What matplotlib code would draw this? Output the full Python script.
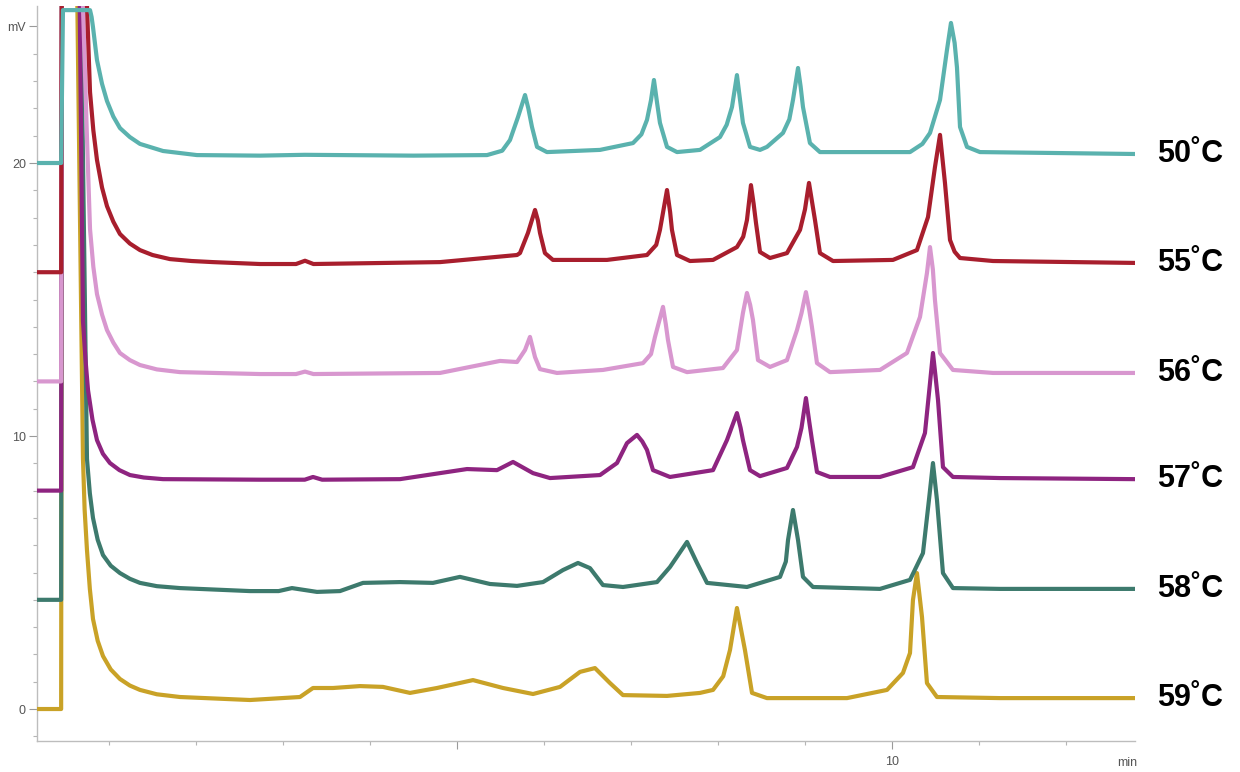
import matplotlib.pyplot as plt
from matplotlib.ticker import FixedLocator
import numpy as np

# Chromatogram traces: retention time (min) and signal (mV)
# each trace is offset by 4 mV from the one below
time_50 = [0.17, 0.45, 0.471, 0.782, 0.80, 0.816, 0.862, 0.92, 0.977, 1.05, 1.126, 1.24, 1.356, 1.621, 2.011,
           2.736, 3.25, 4.5,
           5.345, 5.52, 5.609, 5.701, 5.782, 5.82, 5.862, 5.92, 6.034,
           6.644, 7.023, 7.12, 7.184, 7.23, 7.264, 7.30, 7.333, 7.414, 7.529,
           7.793, 8.023, 8.10, 8.161, 8.218, 8.25, 8.287, 8.368, 8.483,
           8.563, 8.747, 8.82, 8.862, 8.92, 8.95, 8.977, 9.057, 9.172,
           10.207, 10.35, 10.437, 10.552, 10.632, 10.678, 10.72, 10.747, 10.782, 10.862, 11.011, 12.793]
mv_50 = [20.0, 20.0, 25.6, 25.6, 25.35, 24.98, 23.77, 22.9, 22.27, 21.7, 21.28, 20.95, 20.70, 20.44, 20.29,
         20.27, 20.30, 20.27,
         20.29, 20.45, 20.84, 21.68, 22.49, 22.0, 21.32, 20.59, 20.40,
         20.48, 20.73, 21.05, 21.58, 22.3, 23.04, 22.2, 21.47, 20.59, 20.40,
         20.48, 20.95, 21.4, 22.05, 23.22, 22.4, 21.47, 20.59, 20.48,
         20.59, 21.10, 21.6, 22.31, 23.48, 22.8, 22.05, 20.73, 20.40,
         20.40, 20.7, 21.10, 22.31, 24.14, 25.13, 24.4, 23.50, 21.32, 20.59, 20.40, 20.33]

time_55 = [0.17, 0.45, 0.46, 0.70, 0.782, 0.82, 0.862, 0.92, 0.977, 1.05, 1.126, 1.24, 1.356, 1.5, 1.701, 1.95,
           2.195, 2.736, 3.15, 3.253, 3.35,
           4.805, 5.69, 5.724, 5.816, 5.897, 5.93, 5.954, 6.011, 6.103,
           6.724, 7.184, 7.29, 7.333, 7.414, 7.45, 7.471, 7.529, 7.678,
           7.943, 8.218, 8.29, 8.333, 8.379, 8.41, 8.437, 8.483, 8.598,
           8.793, 8.943, 9.0, 9.046, 9.08, 9.115, 9.172, 9.322,
           10.011, 10.287, 10.414, 10.494, 10.552, 10.609, 10.667, 10.72, 10.782, 11.161, 12.793]
mv_55 = [16.0, 16.0, 30.0, 30.0, 22.60, 21.2, 20.11, 19.1, 18.42, 17.85, 17.40, 17.05, 16.81, 16.63, 16.48, 16.41,
         16.37, 16.30, 16.30, 16.42, 16.30,
         16.37, 16.63, 16.70, 17.44, 18.28, 17.9, 17.44, 16.70, 16.45,
         16.45, 16.63, 17.0, 17.55, 19.01, 18.2, 17.55, 16.63, 16.41,
         16.45, 16.92, 17.3, 17.91, 19.19, 18.5, 17.80, 16.74, 16.52,
         16.70, 17.55, 18.3, 19.27, 18.6, 17.91, 16.70, 16.41,
         16.45, 16.81, 18.02, 19.85, 21.03, 19.27, 17.18, 16.75, 16.52, 16.41, 16.34]

time_56 = [0.17, 0.45, 0.46, 0.66, 0.747, 0.782, 0.82, 0.862, 0.92, 0.977, 1.05, 1.126, 1.24, 1.356, 1.55,
           1.816, 2.736, 3.15, 3.253, 3.35,
           4.805, 5.494, 5.69, 5.782, 5.839, 5.897, 5.954, 6.149,
           6.678, 7.138, 7.23, 7.276, 7.368, 7.40, 7.425, 7.483, 7.644,
           8.057, 8.218, 8.287, 8.333, 8.37, 8.402, 8.46, 8.598,
           8.793, 8.908, 8.96, 9.011, 9.05, 9.08, 9.138, 9.287,
           9.862, 10.172, 10.322, 10.402, 10.437, 10.47, 10.494, 10.552, 10.701, 11.161, 12.793]
mv_56 = [12.0, 12.0, 30.0, 30.0, 20.92, 17.58, 16.2, 15.20, 14.45, 13.88, 13.42, 13.04, 12.78, 12.60, 12.44,
         12.34, 12.27, 12.27, 12.36, 12.27,
         12.31, 12.75, 12.71, 13.15, 13.63, 12.89, 12.45, 12.31,
         12.42, 12.67, 13.0, 13.63, 14.73, 14.1, 13.52, 12.53, 12.34,
         12.49, 13.15, 14.51, 15.24, 14.8, 14.25, 12.78, 12.53,
         12.78, 13.88, 14.5, 15.27, 14.6, 13.99, 12.67, 12.34,
         12.42, 13.04, 14.36, 15.97, 16.92, 16.1, 14.98, 13.04, 12.42, 12.31, 12.31]

time_57 = [0.17, 0.45, 0.46, 0.65, 0.701, 0.73, 0.759, 0.81, 0.862, 0.93, 1.011, 1.12, 1.241, 1.4, 1.621,
           2.736, 3.25, 3.345, 3.45,
           4.345, 5.115, 5.46, 5.644, 5.874, 6.069,
           6.644, 6.839, 6.954, 7.069, 7.13, 7.184, 7.253, 7.448,
           7.943, 8.103, 8.218, 8.26, 8.287, 8.368, 8.483,
           8.793, 8.908, 8.96, 9.011, 9.05, 9.08, 9.138, 9.287,
           9.862, 10.241, 10.379, 10.437, 10.471, 10.50, 10.529, 10.586, 10.701, 11.241, 12.793]
mv_57 = [8.0, 8.0, 30.0, 30.0, 14.21, 12.8, 11.68, 10.6, 9.85, 9.35, 9.01, 8.75, 8.57, 8.48, 8.42,
         8.40, 8.40, 8.50, 8.40,
         8.42, 8.79, 8.75, 9.05, 8.64, 8.46,
         8.57, 9.01, 9.74, 10.04, 9.8, 9.49, 8.75, 8.50,
         8.75, 9.85, 10.84, 10.3, 9.85, 8.75, 8.53,
         8.83, 9.60, 10.3, 11.39, 10.5, 9.85, 8.68, 8.50,
         8.50, 8.86, 10.11, 11.94, 13.04, 12.2, 11.32, 8.86, 8.50, 8.46, 8.42]

time_58 = [0.17, 0.45, 0.46, 0.66, 0.747, 0.78, 0.816, 0.87, 0.931, 1.02, 1.126, 1.24, 1.356, 1.55, 1.816,
           2.621, 2.95, 3.103, 3.391,
           3.655, 3.92, 4.345, 4.724, 5.034, 5.379, 5.69, 5.989, 6.218, 6.391, 6.529, 6.678, 6.908, 7.299,
           7.448, 7.644, 7.759, 7.874, 8.333, 8.713, 8.78, 8.805, 8.862, 8.92, 8.977, 9.092, 9.862, 10.207,
           10.356, 10.425, 10.471, 10.517, 10.586, 10.701, 11.241, 12.793]
mv_58 = [4.0, 4.0, 30.0, 30.0, 9.16, 7.9, 7.00, 6.2, 5.64, 5.25, 4.98, 4.77, 4.62, 4.50, 4.43,
         4.32, 4.32, 4.43, 4.29,
         4.32, 4.62, 4.65, 4.62, 4.84, 4.58, 4.51, 4.65, 5.09, 5.35, 5.16, 4.54, 4.47, 4.65,
         5.20, 6.12, 5.35, 4.62, 4.47, 4.84, 5.4, 6.19, 7.29, 6.19, 4.84, 4.47, 4.40, 4.73,
         5.71, 7.66, 9.01, 7.66, 4.98, 4.43, 4.40, 4.40]

time_59 = [0.17, 0.45, 0.46, 0.62, 0.701, 0.72, 0.747, 0.78, 0.816, 0.87, 0.931, 1.02, 1.126, 1.24, 1.356, 1.55,
           1.816, 2.621, 3.195, 3.345,
           3.575, 3.885, 4.149, 4.46, 4.77, 5.184, 5.529, 5.874, 6.184, 6.414, 6.586, 6.759, 6.908, 7.414,
           7.793, 7.943, 8.06, 8.138, 8.218, 8.31, 8.391, 8.563, 9.483, 9.943, 10.126, 10.207, 10.241, 10.287,
           10.345, 10.402, 10.517, 11.241, 12.793]
mv_59 = [0.0, 0.0, 30.0, 30.0, 9.16, 7.3, 5.82, 4.4, 3.30, 2.5, 1.94, 1.45, 1.10, 0.86, 0.70, 0.54,
         0.44, 0.33, 0.44, 0.77,
         0.77, 0.84, 0.81, 0.59, 0.77, 1.06, 0.77, 0.55, 0.81, 1.36, 1.50, 0.95, 0.51, 0.48,
         0.59, 0.70, 1.2, 2.16, 3.70, 2.16, 0.59, 0.40, 0.40, 0.70, 1.32, 2.05, 3.99, 4.98,
         3.37, 0.95, 0.44, 0.40, 0.40]

temps = ['50\u02daC', '55\u02daC', '56\u02daC', '57\u02daC', '58\u02daC', '59\u02daC']
colors = ['#5ab2ae', '#a81e2d', '#d897cf', '#8e2480', '#3d7a6d', '#c9a227']

traces = [(time_50, mv_50), (time_55, mv_55), (time_56, mv_56),
          (time_57, mv_57), (time_58, mv_58), (time_59, mv_59)]

plt.rcParams['font.family'] = ['Liberation Sans', 'DejaVu Sans']

fig = plt.figure(figsize=(12.4, 7.72), dpi=100)
ax = fig.add_axes([0.0298, 0.0402, 0.8855, 0.952])

# lowest trace first so the 50 C trace sits on top
for i in range(len(traces) - 1, -1, -1):
    t, mv = traces[i]
    ax.plot(t, mv, color=colors[i], lw=3.0, solid_joinstyle='round', zorder=2 + (6 - i))
    # temperature label at the right end of each trace
    ax.text(1.02, mv[-1], temps[i], transform=ax.get_yaxis_transform(),
            ha='left', va='center', fontsize=22, fontweight='bold', color='black', clip_on=False)

ax.set_xlim(0.172, 12.793)
ax.set_ylim(-1.17, 25.75)

# axis styling like the chromatography software
for side in ['top', 'right']:
    ax.spines[side].set_visible(False)
for side in ['left', 'bottom']:
    ax.spines[side].set_color('#bdbdbd')
    ax.spines[side].set_linewidth(1.0)

ax.yaxis.set_major_locator(FixedLocator([0, 10, 20, 25]))
ax.set_yticklabels(['0', '10', '20', 'mV'])
ax.yaxis.set_minor_locator(FixedLocator([v for v in range(-1, 26) if v not in (0, 10, 20, 25)]))

ax.xaxis.set_major_locator(FixedLocator([5, 10]))
ax.set_xticklabels(['', '10'])
ax.xaxis.set_minor_locator(FixedLocator([m for m in range(1, 13) if m not in (5, 10)]))

ax.tick_params(which='major', length=6, width=0.8, color='#9a9a9a', labelsize=9, labelcolor='#555555', pad=2)
ax.tick_params(which='minor', length=3, width=0.8, color='#b5b5b5')
ax.tick_params(axis='x', which='major', pad=5)

ax.text(12.7, -0.022, 'min', transform=ax.get_xaxis_transform(), ha='center', va='top',
        fontsize=9, color='#555555')

fig.savefig('out.png', dpi=100)
